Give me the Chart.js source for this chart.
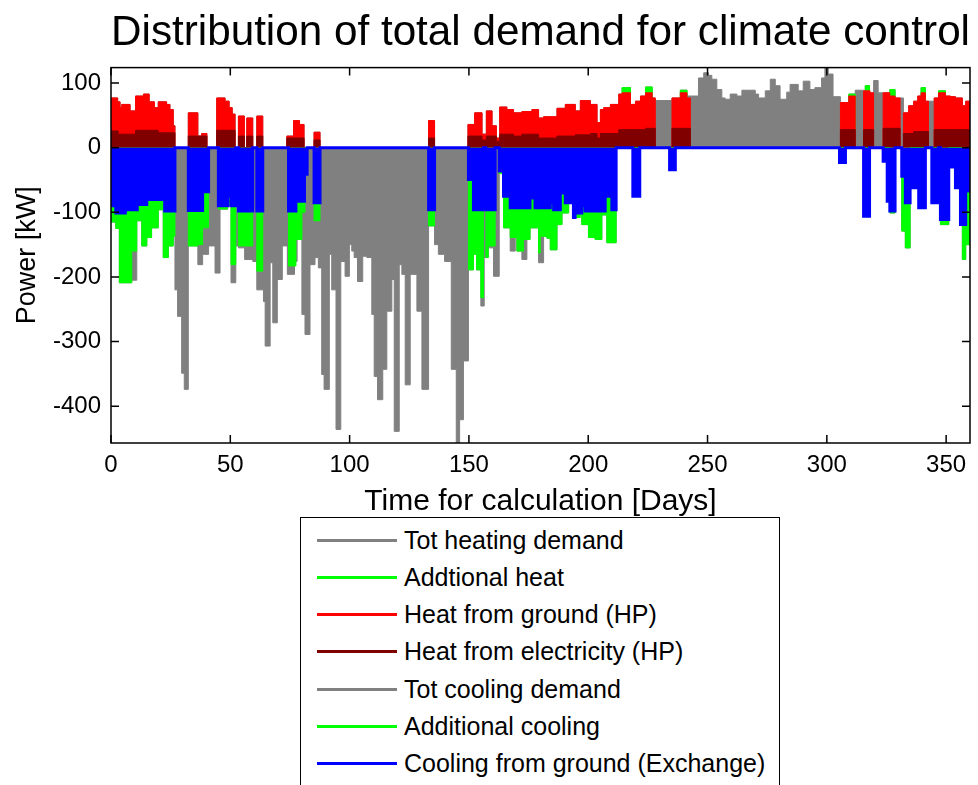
<!DOCTYPE html>
<html>
<head>
<meta charset="utf-8">
<script src="https://cdn.jsdelivr.net/npm/chart.js@4.4.0/dist/chart.umd.min.js"></script>
<style>
  body { margin: 0; background: #fff; overflow: hidden; }
  #wrap { position: relative; width: 978px; height: 785px; }
  #legend {
    position: absolute; left: 300px; top: 517px; width: 480px; height: 300px;
    border: 1.5px solid #000; background: #fff; box-sizing: border-box;
    font: 25px 'Liberation Sans', Arial, sans-serif; color: #000;
  }
  .row { position: absolute; left: 0; height: 37px; display: flex; align-items: center; white-space: nowrap; }
  .swatch { width: 80px; height: 3px; margin-left: 16px; margin-right: 7px; }
</style>
</head>
<body>
<div id="wrap">
  <canvas id="demand-plot" width="978" height="785"></canvas>
  <div id="legend"></div>
</div>
<script>
// axis ticks
const xTicks = [0, 50, 100, 150, 200, 250, 300, 350];
const yTicks = [-400, -300, -200, -100, 0, 100];

// each series: [day where the step starts, kW]
const heatTotal = [[0,77],[2.8,71],[3.8,62],[4.5,67],[8,57],[10.3,80],[13.6,83],[16,71],[18.2,62],[19.8,71],[23.3,67],[24.7,59],[26.1,34],[26.8,0],
  [32.4,54],[36.4,18],[38,22],[40.2,0],[44.3,77],[47.8,72],[49.5,62],[50.8,52],[52,0],[53.4,49],[55.9,0],[56.9,46],[59.4,0],
  [61.1,49],[63.6,0],[73.7,18],[76.5,42],[79,36],[80.9,0],[85.1,24],[87.6,0],
  [133.1,42],[135.6,0],[149.6,36],[152.4,54],[155.5,21],[157.3,57],[159.7,34],[161.5,15],[162.9,63],[165.9,59],[168.7,54],[172.2,56],[176.4,59],[179.2,46],
  [181.3,48],[186.9,61],[190.4,67],[194.6,57],[196.7,73],[200.9,67],[203.7,39],[205.1,59],[206.5,62],[209.3,67],[212.8,83],[214.2,93],[217.7,67],[219.8,72],[221.9,80],[224,94],[226.8,77],[228.1,73],[235.1,77],[238.6,89],[241.4,80],
  [242.8,80],[246.2,108],[248.4,116],[250.4,112],[251.8,106],[253.9,90],[256,77],[257.4,75],[259.5,83],[262.3,80],[264.4,89],[270,83],[271.4,77],[274.2,88],[276.3,106],[278.4,96],[280.4,75],[283.2,86],[284.6,98],[288,88],[290.1,103],[292.9,90],[295,93],[297.8,108],[299.2,124],[300.6,114],[302.6,79],
  [305.7,70],[309.2,83],[311.9,89],[315.4,88],[316.1,96],[317.9,85],[319.6,104],[321.5,85],[323.6,85],[326.4,90],[328.6,77],[332.1,54],[334.3,65],[336.4,72],[338.1,80],[339.5,93],[341.3,72],[345,77],[346.8,88],[349.7,80],[351.8,79],[353.9,77],[356.8,65],[358.2,72],[360,72]];

const addHeatTop = [[0,0],[214.2,93],[217.7,0],[224,94],[226.8,0],[238.6,89],[241.4,0],[309.2,83],[311.9,0],[316.1,96],[317.9,0],
  [326.4,90],[328.6,0],[339.5,93],[341.3,0],[346.8,88],[349.7,0],[360,0]];

const heatGround = [[0,77],[2.8,71],[3.8,62],[4.5,67],[8,57],[10.3,80],[13.6,83],[16,71],[18.2,62],[19.8,71],[23.3,67],[24.7,59],[26.1,34],[26.8,0],
  [32.4,54],[36.4,18],[38,22],[40.2,0],[44.3,77],[47.8,72],[49.5,62],[50.8,52],[52,0],[53.4,49],[55.9,0],[56.9,46],[59.4,0],
  [61.1,49],[63.6,0],[73.7,18],[76.5,42],[79,36],[80.9,0],[85.1,24],[87.6,0],
  [133.1,42],[135.6,0],[149.6,36],[152.4,54],[155.5,21],[157.3,57],[159.7,34],[161.5,15],[162.9,63],[165.9,59],[168.7,54],[172.2,56],[176.4,59],[179.2,46],
  [181.3,48],[186.9,61],[190.4,67],[194.6,57],[196.7,73],[200.9,67],[203.7,39],[205.1,59],[206.5,62],[209.3,67],[212.8,83],[214.2,85],[217.7,67],[219.8,72],[221.9,80],[224,85],[226.8,77],[228.1,0],[235.1,77],[238.6,85],[241.4,77],[242.8,0],
  [305.7,70],[309.2,80],[311.9,0],[315.4,88],[318.1,85],[319.6,0],[323.6,85],[326.4,80],[328.6,77],[330.7,0],[332.1,54],[334.3,65],[336.4,72],[338.1,80],[339.5,85],[341.3,72],[342.6,0],
  [345,77],[346.8,85],[349.7,80],[351.8,79],[353.9,77],[356.8,65],[358.2,72],[360,72]];

const heatElec = [[0,26],[3,21],[10.3,27],[19.8,23],[26.8,0],[32.4,18],[40.2,0],[44.3,27],[52,0],[53.4,18],[55.9,0],[56.9,18],[59.4,0],[61.1,18],[63.6,0],
  [73.7,15],[80.9,0],[85.1,12],[87.6,0],[133.1,15],[135.6,0],[149.6,18],[155.5,12],[157.3,18],[161.5,10],[162.9,21],[168.7,18],[172.2,21],[179.2,15],
  [186.9,18],[194.6,20],[200.9,22],[203.7,15],[205.1,22],[212.8,28],[224,30],[228.1,0],[235.1,30],[242.8,0],
  [305.7,28],[311.9,0],[315.4,28],[319.6,0],[323.6,30],[330.7,0],[332.1,22],[336.4,25],[342.6,0],[345,28],[360,28]];

const coolTotal = [[0,-115],[2,-125],[3.5,-209],[8.7,-205],[10.8,-113],[12.9,-152],[15,-139],[17,-124],[19.8,-96],[21.9,-170],[24,-152],[26.1,-137],
  [26.8,-220],[27.9,-261],[29.6,-349],[30.7,-374],[32.4,-152],[36.4,-181],[38.4,-165],[40.9,-152],[43.6,-194],[45.7,-95],[48.9,-90],[50.3,-209],[52.3,-152],[53.4,-155],[56,-173],
  [59.4,-176],[61.1,-220],[63.9,-238],[64.6,-307],[66.7,-178],[67.8,-271],[69.7,-204],[71.8,-152],[73.9,-196],[76.9,-176],[78,-142],[80,-258],[81.3,-289],[83.4,-181],
  [85.5,-170],[86.9,-186],[88.3,-351],[89.3,-374],[91.5,-165],[92.5,-220],[94.3,-436],[96.3,-176],[98.1,-199],[99.9,-150],[100.9,-160],[101.9,-170],[103.3,-207],
  [105.5,-168],[107.2,-170],[109.3,-258],[110.3,-354],[111.7,-390],[113.9,-343],[115.6,-253],[117.7,-204],[118.7,-439],[120.8,-181],[121.9,-196],[123.3,-367],
  [125.4,-196],[128.2,-253],[130.3,-374],[133.1,-121],[135.6,-150],[137.2,-165],[139.8,-176],[142.6,-343],[144.7,-457],[146.1,-421],[147.7,-330],
  [149.8,-189],[151.9,-165],[153.2,-189],[155,-245],[156.4,-170],[158.1,-155],[160.3,-199],[162.7,-40],[164.5,-124],[167.3,-160],[169.4,-139],[170.1,-160],
  [172.2,-173],[174.3,-142],[175.6,-124],[179.2,-178],[181.3,-137],[182.7,-140],[184.1,-158],[186.9,-119],[189,-101],[191.8,-85],[193.8,-108],[196.6,-101],
  [197.3,-119],[200.1,-139],[202.9,-142],[205.7,-104],[207.8,-147],[211.7,0],[218.7,-75],[221.6,0],[234.1,-34],[236.5,0],
  [305.3,-23],[307.8,0],[315.4,-106],[317.9,0],[323.6,-21],[325.3,-83],[326.4,-101],[328.6,0],[331.4,-129],[332.9,-155],[334.9,-62],[338.1,-41],[338.5,-93],
  [341.3,0],[344,-85],[346.8,0],[347.6,-119],[351.1,-30],[353.9,-62],[356,-119],[356.8,-173],[358.2,-150],[360,-150]];

const addCool = [[0,-115],[2,-125],[3.5,-209],[8.7,-160],[10.8,-113],[12.9,-152],[15,-139],[17,-124],[19.8,-96],[21.9,-170],[24,-152],[26.1,-137],[26.8,0],
  [32.4,-152],[36.4,-150],[38.4,-124],[40.9,0],[45,-95],[48.9,-90],[50.3,-181],[52.3,0],[53.4,-152],[59.4,0],[61.1,-191],[63.6,0],
  [74.4,-183],[77.5,-142],[80,-100],[81.3,0],[85.1,-113],[87.6,0],[133.1,-121],[135.6,0],
  [149.8,-189],[151.9,-165],[153.2,-189],[155,-232],[156.1,0],[157.1,-170],[158.1,-152],[161,0],[162.7,-40],[164.5,-124],[167.3,-139],[170.1,-160],
  [172.9,-142],[175.6,-124],[179.2,-163],[179.9,-137],[182.7,-140],[184.1,-158],[186.9,-119],[189,-101],[191.8,-85],[193.8,-108],[196.6,-101],[197.3,-119],
  [200.1,-139],[202.9,-142],[205.7,-104],[207.8,-147],[211.7,0],
  [326.4,-101],[328.6,0],[331.4,-129],[332.9,-155],[334.9,0],[347.6,-119],[351.1,0],[356.8,-173],[358.2,-150],[360,-150]];

const coolGround = [[0,-90],[2,-101],[6,-96],[11,-88],[15,-80],[22.5,-98],[26.8,0],[32.4,-97],[38.4,-68],[40.9,0],[45,-90],[48.9,-75],[50.3,-90],[52.3,0],
  [53.4,-98],[59.4,0],[61.1,-98],[63.6,0],[74.4,-98],[77.5,-83],[81.1,-41],[82.2,0],[85.1,-85],[87.6,0],[133.1,-96],[135.6,0],
  [149.8,-49],[151.9,-96],[156.1,0],[157.1,-96],[161,0],[162.7,-36],[164.5,-75],[167.3,-93],[175.6,-78],[177.7,-93],[184.1,-85],[185.5,-96],[188.3,-70],
  [190.4,-85],[193.8,-108],[194.5,-101],[197.3,-90],[198.7,-98],[207.1,-75],[209.9,-96],[211.7,0],[218.7,-75],[221.6,0],[234.1,-34],[236.5,0],
  [305.3,-23],[307.8,0],[315.4,-106],[317.9,0],[323.6,-21],[325.3,-83],[326.4,-98],[328.6,0],[331.4,-44],[332.9,-85],[334.9,-62],[338.1,-41],[338.5,-93],
  [341.3,0],[344,-85],[346.8,0],[347.6,-111],[351.1,-30],[353.9,-62],[356,-119],[358.2,-67],[360,-67]];

const FONT = "'Liberation Sans', Arial, Helvetica, sans-serif";
Chart.defaults.color = '#000';
Chart.defaults.font.family = FONT;

const toPoints = s => s.map(([d, kw]) => ({ x: d, y: kw }));

// overlapping areas, lower "order" is painted on top
function area(label, series, color, order, width) {
  return {
    label: label,
    data: toPoints(series),
    stepped: true,
    fill: 'origin',
    backgroundColor: color,
    borderColor: color,
    borderWidth: width || 1,
    pointRadius: 0,
    order: order
  };
}

// box with inward ticks on all four sides, like the original figure
const frame = {
  id: 'frame',
  afterDatasetsDraw(chart) {
    const { ctx, chartArea: a, scales: { x, y } } = chart;
    ctx.save();
    ctx.strokeStyle = '#000';
    ctx.lineWidth = 1.5;
    ctx.strokeRect(a.left, a.top, a.right - a.left, a.bottom - a.top);
    ctx.beginPath();
    xTicks.forEach(v => {
      const px = x.getPixelForValue(v);
      ctx.moveTo(px, a.bottom); ctx.lineTo(px, a.bottom - 8);
      ctx.moveTo(px, a.top); ctx.lineTo(px, a.top + 8);
    });
    yTicks.forEach(v => {
      const py = y.getPixelForValue(v);
      ctx.moveTo(a.left, py); ctx.lineTo(a.left + 8, py);
      ctx.moveTo(a.right, py); ctx.lineTo(a.right - 8, py);
    });
    ctx.stroke();
    ctx.restore();
  }
};

const ctx = document.getElementById('demand-plot').getContext('2d');
const chart = new Chart(ctx, {
  type: 'line',
  data: {
    datasets: [
      area('Tot heating demand', heatTotal, '#808080', 6),
      area('Addtional heat', addHeatTop, '#00ff00', 5),
      area('Heat from ground (HP)', heatGround, '#ff0000', 4),
      area('Heat from electricity (HP)', heatElec, '#800000', 3),
      area('Tot cooling demand', coolTotal, '#808080', 2),
      area('Additional cooling', addCool, '#00ff00', 1),
      area('Cooling from ground (Exchange)', coolGround, '#0000ff', 0, 3)
    ]
  },
  options: {
    responsive: false,
    animation: false,
    devicePixelRatio: 1,
    events: [],
    layout: { padding: { left: 0, right: 8, top: 0, bottom: 265 } },
    plugins: {
      legend: { display: false },
      tooltip: { enabled: false },
      title: {
        display: true,
        text: 'Distribution of total demand for climate control',
        fullSize: false,
        color: '#000',
        font: { size: 43, weight: 'normal' },
        padding: { top: 7, bottom: 9 }
      }
    },
    scales: {
      x: {
        type: 'linear',
        min: 0,
        max: 360,
        afterBuildTicks: s => { s.ticks = xTicks.map(v => ({ value: v })); },
        afterFit: s => { s.height = 77; },
        grid: { display: false, drawTicks: false },
        border: { display: false },
        ticks: { padding: 8, autoSkip: false, maxRotation: 0, font: { size: 24 } },
        title: { display: true, text: 'Time for calculation [Days]', font: { size: 30 }, padding: { top: 0, bottom: 0 } }
      },
      y: {
        type: 'linear',
        min: -457,
        max: 124,
        afterBuildTicks: s => { s.ticks = yTicks.map(v => ({ value: v })); },
        afterFit: s => { s.width = 111; },
        grid: { display: false, drawTicks: false },
        border: { display: false },
        ticks: { padding: 10, font: { size: 24 } },
        title: { display: true, text: 'Power [kW]', font: { size: 27 }, padding: { top: 11, bottom: 0 } }
      }
    }
  },
  plugins: [frame]
});

// legend as a list under the plot, in dataset order
const legendBox = document.getElementById('legend');
chart.data.datasets.forEach((ds, i) => {
  const row = document.createElement('div');
  row.className = 'row';
  row.style.top = (22 + i * 37.33 - 18.5) + 'px';
  const sw = document.createElement('span');
  sw.className = 'swatch';
  sw.style.background = ds.borderColor;
  const txt = document.createElement('span');
  txt.textContent = ds.label;
  row.appendChild(sw);
  row.appendChild(txt);
  legendBox.appendChild(row);
});
</script>
</body>
</html>
